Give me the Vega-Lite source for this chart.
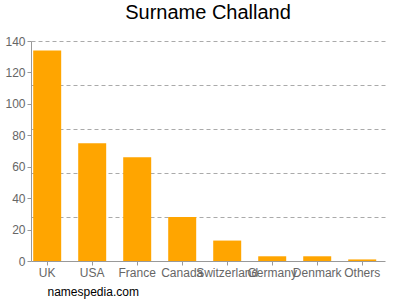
{
  "$schema": "https://vega.github.io/schema/vega-lite/v6.json",
  "width": 354,
  "height": 220,
  "autosize": {"type": "none"},
  "padding": {"left": 31, "top": 41, "right": 15, "bottom": 39},
  "title": {"text": "Surname Challand", "fontSize": 20, "font": "Liberation Sans", "fontWeight": "normal", "color": "#000", "anchor": "middle", "offset": 18, "dy": 6},
  "data": {"values": [
    {"country": "UK", "count": 134},
    {"country": "USA", "count": 75},
    {"country": "France", "count": 66},
    {"country": "Canada", "count": 28},
    {"country": "Switzerland", "count": 13},
    {"country": "Germany", "count": 3},
    {"country": "Denmark", "count": 3},
    {"country": "Others", "count": 1}
  ]},
  "config": {"view": {"stroke": null}, "font": "Liberation Sans"},
  "encoding": {
    "x": {"field": "country", "type": "nominal", "sort": null,
      "scale": {"paddingInner": 0.378, "paddingOuter": 0.122, "align": 0.2},
      "axis": {"labelAngle": 0, "labelOverlap": false, "labelLimit": 0, "labelFontSize": 12, "labelColor": "#666", "domainColor": "#999", "tickColor": "#999", "tickSize": 4, "labelPadding": 2,
        "title": "namespedia.com", "titleAnchor": "start", "titleAlign": "left", "titleX": 16, "titleY": 34, "titleBaseline": "alphabetic", "titleFontSize": 12, "titleFontWeight": "normal", "titleColor": "#000"}}
  },
  "layer": [
    {
      "mark": {"type": "bar", "opacity": 0},
      "encoding": {"y": {"field": "count", "type": "quantitative", "scale": {"domain": [0, 140]},
        "axis": {"orient": "right", "values": [28, 56, 84, 112, 140], "grid": true, "gridDash": [4, 3], "gridColor": "#aaa", "labels": false, "ticks": false, "domain": false, "title": null}}}
    },
    {
      "mark": {"type": "bar", "color": "#FFA500"},
      "encoding": {"y": {"field": "count", "type": "quantitative", "scale": {"domain": [0, 140]},
        "axis": {"orient": "left", "values": [0, 20, 40, 60, 80, 100, 120, 140], "grid": false, "labelFontSize": 12, "labelColor": "#666", "domainColor": "#999", "tickColor": "#999", "tickSize": 4, "labelPadding": 2, "title": null}}}
    }
  ],
  "resolve": {"axis": {"y": "independent"}}
}
